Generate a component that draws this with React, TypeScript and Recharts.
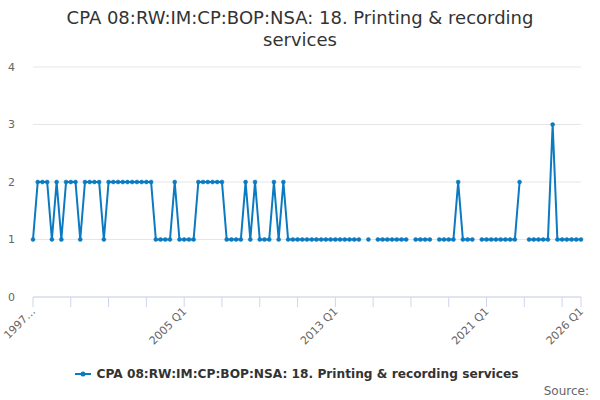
import React from "react";
import { LineChart, Line, XAxis, YAxis, CartesianGrid, Legend } from "recharts";

const TITLE_LINES = ["CPA 08:RW:IM:CP:BOP:NSA: 18. Printing & recording", "services"];
const SERIES_NAME = "CPA 08:RW:IM:CP:BOP:NSA: 18. Printing & recording services";
const COLOR = "#0b7ac1";
const FONT = "'DejaVu Sans', sans-serif";

const START_YEAR = 1997;
const QUARTERS = ["Q1", "Q2", "Q3", "Q4"];

// one row per year, Q1..Q4 (null = no value)
const VALUES: (number | null)[] = [
  1, 2, 2, 2, // 1997
  1, 2, 1, 2, // 1998
  2, 2, 1, 2, // 1999
  2, 2, 2, 1, // 2000
  2, 2, 2, 2, // 2001
  2, 2, 2, 2, // 2002
  2, 2, 1, 1, // 2003
  1, 1, 2, 1, // 2004
  1, 1, 1, 2, // 2005
  2, 2, 2, 2, // 2006
  2, 1, 1, 1, // 2007
  1, 2, 1, 2, // 2008
  1, 1, 1, 2, // 2009
  1, 2, 1, 1, // 2010
  1, 1, 1, 1, // 2011
  1, 1, 1, 1, // 2012
  1, 1, 1, 1, // 2013
  1, 1, null, 1, // 2014
  null, 1, 1, 1, // 2015
  1, 1, 1, 1, // 2016
  null, 1, 1, 1, // 2017
  1, null, 1, 1, // 2018
  1, 1, 2, 1, // 2019
  1, 1, null, 1, // 2020
  1, 1, 1, 1, // 2021
  1, 1, 1, 2, // 2022
  null, 1, 1, 1, // 2023
  1, 1, 3, 1, // 2024
  1, 1, 1, 1, // 2025
  1, // 2026 Q1
];

const CATEGORIES = VALUES.map(
  (_, i) => `${START_YEAR + Math.floor(i / 4)} ${QUARTERS[i % 4]}`
);

const X_TICKS = [0, 8, 16, 24, 32, 40, 48, 56, 64, 72, 80, 88, 96, 104, 112, 116];
const X_LABELS: Record<number, string> = {
  0: "1997…",
  32: "2005 Q1",
  64: "2013 Q1",
  96: "2021 Q1",
  116: "2026 Q1",
};
const Y_TICKS = [0, 1, 2, 3, 4];

const data = VALUES.map((v, i) => ({ idx: i, label: CATEGORIES[i], value: v }));

if (typeof document !== "undefined") document.body.style.margin = "0";

function XTick({ x, y, payload }: { x?: number; y?: number; payload?: { value: number } }) {
  const text = payload ? X_LABELS[payload.value] : undefined;
  if (!text || x == null || y == null) return null;
  const ax = x + 3;
  const ay = y + 3;
  return (
    <text
      x={ax}
      y={ay}
      textAnchor="end"
      transform={`rotate(-45 ${ax} ${ay})`}
      fontSize={11}
      fill="#666666"
      fontFamily={FONT}
    >
      {text}
    </text>
  );
}

function LegendContent() {
  return (
    <div
      style={{
        display: "flex",
        alignItems: "center",
        justifyContent: "center",
        fontFamily: FONT,
        fontSize: 12.2,
        fontWeight: 700,
        color: "#333333",
      }}
    >
      <svg width={16} height={12} style={{ marginRight: 5 }}>
        <line x1={0} y1={6} x2={16} y2={6} stroke={COLOR} strokeWidth={2} />
        <circle cx={8} cy={6} r={2.5} fill={COLOR} />
      </svg>
      <span>{SERIES_NAME}</span>
    </div>
  );
}

export default function App() {
  return (
    <div style={{ position: "relative", width: 600, height: 400, background: "#fff" }}>
      <div
        style={{
          position: "absolute",
          top: 7,
          left: 0,
          width: 600,
          textAlign: "center",
          fontFamily: FONT,
          fontSize: 18,
          lineHeight: "22px",
          color: "#333333",
          zIndex: 1,
        }}
      >
        {TITLE_LINES.map((t) => (
          <div key={t}>{t}</div>
        ))}
      </div>
      <LineChart
        width={600}
        height={400}
        data={data}
        margin={{ top: 67, right: 19, left: 0, bottom: 43 }}
      >
        <CartesianGrid vertical={false} stroke="#e6e6e6" />
        <XAxis
          type="number"
          dataKey="idx"
          domain={[0, 116]}
          ticks={X_TICKS}
          interval={0}
          height={60}
          tickSize={10}
          axisLine={{ stroke: "#ccd6eb" }}
          tickLine={{ stroke: "#ccd6eb" }}
          tick={<XTick />}
        />
        <YAxis
          domain={[0, 4]}
          ticks={Y_TICKS}
          width={33}
          axisLine={false}
          tickLine={false}
          tickSize={0}
          tickMargin={18}
          tick={{ fontSize: 11, fill: "#666666", fontFamily: FONT }}
        />
        <Legend
          layout="horizontal"
          verticalAlign="middle"
          align="center"
          content={<LegendContent />}
          wrapperStyle={{ top: 367, left: -3, width: 600 }}
        />
        <Line
          type="linear"
          dataKey="value"
          name={SERIES_NAME}
          stroke={COLOR}
          strokeWidth={2}
          connectNulls={false}
          dot={{ r: 2, fill: COLOR, stroke: COLOR, strokeWidth: 0.5 }}
          activeDot={false}
          isAnimationActive={false}
        />
      </LineChart>
      <div
        style={{
          position: "absolute",
          top: 384,
          right: 11,
          fontFamily: FONT,
          fontSize: 12,
          color: "#666666",
        }}
      >
        Source:
      </div>
    </div>
  );
}
